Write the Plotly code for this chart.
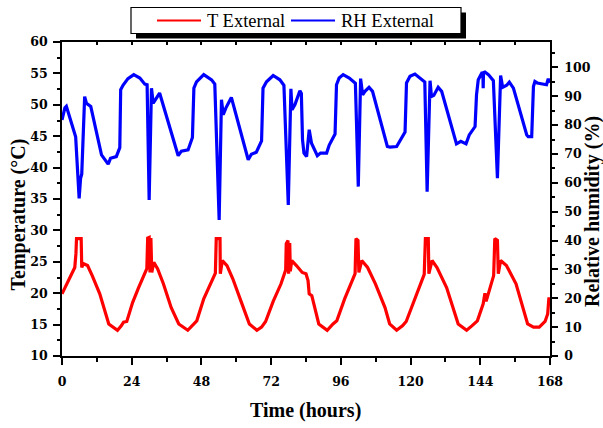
import plotly.graph_objects as go

# ---------------- data ----------------
t_temp = [0.0, 4.4, 4.8, 5.0, 6.6, 6.8, 7.4, 8.8, 10.4, 13.0, 16.1, 18.3, 19.1, 20.4, 21.2, 22.3,
          24.3, 26.3, 28.7, 29.2, 29.5, 30.0, 30.3, 30.6, 30.9, 31.6, 32.9, 34.9, 37.6, 40.2, 43.3,
          44.9, 46.4, 48.8, 51.2, 52.8, 53.1, 54.4, 54.5, 55.2, 56.8, 58.8, 61.8, 64.5, 67.1, 68.7,
          70.1, 72.7, 75.4, 77.0, 77.2, 77.8, 78.0, 78.4, 78.6, 79.1, 80.7, 82.7, 84.0, 84.7, 85.1,
          86.0, 88.4, 91.3, 93.3, 94.6, 97.3, 99.3, 100.9, 101.2, 101.9, 102.2, 103.2, 105.2, 107.9,
          111.2, 112.8, 115.2, 117.2, 118.5, 121.2, 123.1, 124.7, 125.1, 126.1, 126.3, 127.4, 129.1,
          132.4, 136.4, 139.3, 141.1, 143.0, 145.0, 145.6, 146.0, 148.6, 149.0, 149.9, 150.2, 151.0,
          153.0, 156.3, 160.3, 162.3, 164.3, 166.3, 167.2, 167.6, 168.0]
temp = [19.9, 24.1, 26.3, 28.7, 28.7, 24.1, 24.7, 24.4, 22.8, 19.9, 15.1, 14.4, 14.1, 14.8, 15.4, 15.5,
        18.5, 20.8, 23.6, 23.9, 28.8, 28.9, 23.3, 28.8, 23.3, 24.9, 23.9, 21.5, 17.7, 15.1, 14.1,
        14.8, 15.6, 19.1, 21.5, 23.2, 28.7, 28.7, 23.1, 25.2, 24.4, 22.3, 18.5, 15.1, 14.1, 14.6,
        15.5, 18.7, 21.5, 23.7, 27.9, 28.4, 23.1, 28.0, 23.5, 25.2, 24.4, 23.3, 23.1, 22.0, 19.9,
        19.6, 15.1, 14.1, 15.1, 15.6, 19.1, 21.5, 23.1, 28.7, 28.4, 23.3, 25.2, 24.1, 21.5,
        17.7, 15.1, 14.1, 14.8, 15.5, 18.7, 20.9, 23.0, 28.7, 28.7, 23.1, 25.2, 24.1,
        20.9, 15.1, 14.1, 14.8, 15.6, 18.3, 20.0, 18.7, 22.8, 28.7, 28.4, 23.1, 25.2,
        24.4, 21.5, 15.1, 14.6, 14.6, 15.5, 16.7, 19.1, 19.1]

t_rh = [0.0, 1.0, 1.5, 4.4, 4.7, 5.9, 6.4, 6.8, 7.8, 8.4, 9.9, 13.6, 15.9, 16.7, 18.7, 19.9, 20.2,
        21.0, 22.7, 24.7, 26.8, 28.5, 29.3, 30.0, 30.8, 31.4, 33.6, 40.0, 41.1, 43.4, 44.9, 45.4,
        46.3, 48.8, 51.5, 52.6, 54.1, 54.9, 55.5, 56.4, 58.3, 64.1, 65.2, 66.9, 68.7, 69.2, 70.4,
        72.7, 75.0, 76.4, 77.9, 78.8, 79.2, 80.2, 81.9, 82.4, 82.8, 83.3, 84.2, 85.1, 85.9, 87.9,
        89.0, 91.1, 92.0, 94.0, 94.5, 95.4, 96.8, 98.9, 100.3, 101.0, 102.0, 102.8, 103.5, 104.3,
        105.7, 106.9, 112.0, 112.9, 115.2, 116.3, 118.1, 118.6, 119.8, 121.5, 123.2, 124.9, 125.7,
        126.7, 127.2, 128.0, 129.5, 130.7, 135.8, 137.3, 139.1, 140.2, 142.2, 142.7, 143.3, 144.5,
        144.9, 145.0, 145.1, 145.6, 146.8, 148.5, 149.9, 151.0, 151.7, 153.1, 154.0, 155.4, 160.0,
        160.5, 161.7, 162.3, 162.8, 163.6, 166.8, 167.4, 167.8]
rh = [81.8, 86.0, 86.5, 77.2, 76.0, 54.6, 61.6, 63.0, 89.9, 87.6, 86.5, 69.7, 66.5, 68.5, 69.1, 72.2, 92.3,
      93.8, 96.1, 97.5, 96.3, 94.2, 94.0, 54.1, 92.8, 87.6, 91.1, 69.4, 71.0, 71.4, 75.7, 92.8,
      95.0, 97.5, 95.7, 94.2, 47.1, 88.8, 83.6, 85.9, 89.6, 68.0, 69.9, 70.6, 74.5, 92.8, 95.0,
      97.2, 95.7, 93.8, 52.3, 92.6, 85.3, 87.1, 91.9, 91.0, 75.0, 70.3, 69.1, 78.4, 73.7, 69.4,
      70.3, 70.3, 73.1, 76.9, 94.0, 96.3, 97.5, 96.3, 94.9, 94.5, 58.7, 96.1, 90.5, 91.7,
      93.1, 91.7, 72.6, 72.4, 72.6, 74.7, 77.6, 94.6, 96.9, 97.7, 96.3, 94.9, 56.9,
      95.4, 89.9, 90.3, 93.1, 91.7, 73.5, 74.4, 73.5, 76.6, 79.5, 90.5, 95.7, 98.0,
      98.0, 92.8, 98.2, 98.4, 97.5, 95.4, 61.6, 97.2, 93.1, 93.8, 94.9, 92.8, 76.6,
      76.0, 76.0, 93.4, 95.1, 94.6, 94.0, 96.1, 94.6]

x_tickvals = [0, 24, 48, 72, 96, 120, 144, 168]
y_tickvals = [10, 15, 20, 25, 30, 35, 40, 45, 50, 55, 60]
y2_tickvals = [0, 10, 20, 30, 40, 50, 60, 70, 80, 90, 100]

series_names = ["T External", "RH External"]
series_colors = ["#ff0000", "#0000ff"]

# ---------------- layout helpers ----------------
W, H = 603, 428
ML, MR, MT, MB = 62, 53, 42, 72
PW, PH = W - ML - MR, H - MT - MB


def fx(p):
    return (p - ML) / PW


def fy(p):
    return (H - MB - p) / PH


tick_font = dict(family="DejaVu Serif", size=12.5, color="black", weight="bold")
title_font = dict(family="Liberation Serif", size=20, color="black", weight="bold")
legend_font = dict(family="Liberation Serif", size=18.5, color="black")

fig = go.Figure()
fig.add_trace(go.Scatter(x=t_temp, y=temp, mode="lines", name=series_names[0],
                         line=dict(color=series_colors[0], width=3.2), showlegend=False))
fig.add_trace(go.Scatter(x=t_rh, y=rh, mode="lines", name=series_names[1], yaxis="y2",
                         line=dict(color=series_colors[1], width=3.2), showlegend=False))
# carrier trace for the top (mirror) axis
fig.add_trace(go.Scatter(x=[None], y=[None], xaxis="x2", yaxis="y", showlegend=False,
                         hoverinfo="skip"))

axis_common = dict(showline=True, linecolor="black", linewidth=1.5, showgrid=False,
                   zeroline=False, tickcolor="black", tickwidth=1.5, tickfont=tick_font,
                   automargin=False)

fig.update_layout(
    width=W, height=H,
    margin=dict(l=ML, r=MR, t=MT, b=MB, pad=0, autoexpand=False),
    paper_bgcolor="white", plot_bgcolor="white",
    showlegend=False,
    xaxis=dict(range=[0, 168], tickvals=x_tickvals, ticks="outside", ticklen=7,
               minor=dict(dtick=12, tick0=0, ticks="outside", ticklen=4, tickcolor="black",
                          tickwidth=1.5),
               ticklabelstandoff=6, **axis_common),
    xaxis2=dict(range=[0, 168], overlaying="x", side="top", anchor="y", tickvals=list(range(0, 169, 12)),
                ticks="inside", ticklen=3, showticklabels=False, showline=True, linecolor="black",
                linewidth=1.5, tickcolor="black", tickwidth=1.5, showgrid=False, zeroline=False,
                automargin=False),
    yaxis=dict(range=[10, 60], tickvals=y_tickvals, ticks="outside", ticklen=7,
               minor=dict(dtick=2.5, tick0=10, ticks="outside", ticklen=3.5, tickcolor="black",
                          tickwidth=1.5),
               ticklabelstandoff=3, **axis_common),
    yaxis2=dict(range=[0, 108.8], overlaying="y", side="right", anchor="x",
                tickvals=y2_tickvals, ticks="outside", ticklen=6,
                minor=dict(dtick=5, tick0=0, ticks="outside", ticklen=3, tickcolor="black",
                           tickwidth=1.5),
                ticklabelstandoff=4, **axis_common),
)

# ---------------- manual legend (box with drop shadow) ----------------
box = (131, 7.5, 461, 33.5)
shadow_off = 5
shapes = [
    dict(type="rect", xref="paper", yref="paper",
         x0=fx(box[0] + shadow_off), x1=fx(box[2] + shadow_off),
         y0=fy(box[3] + shadow_off), y1=fy(box[1] + shadow_off),
         fillcolor="black", line=dict(width=0)),
    dict(type="rect", xref="paper", yref="paper",
         x0=fx(box[0]), x1=fx(box[2]), y0=fy(box[3]), y1=fy(box[1]),
         fillcolor="white", line=dict(color="black", width=1.2)),
]
ly = 20.5
legend_lines = [(157, 201), (291, 335)]
legend_text_x = [206, 340]
for (a, b), c in zip(legend_lines, series_colors):
    shapes.append(dict(type="line", xref="paper", yref="paper", x0=fx(a), x1=fx(b),
                       y0=fy(ly), y1=fy(ly), line=dict(color=c, width=2)))
fig.update_layout(shapes=shapes)

annotations = []
for name, tx in zip(series_names, legend_text_x):
    annotations.append(dict(text=name, xref="paper", yref="paper", x=fx(tx - 1), y=fy(ly),
                            xanchor="left", yanchor="middle", showarrow=False, font=legend_font))

annotations += [
    dict(text="Time (hours)", xref="paper", yref="paper", x=fx(305), y=fy(410),
         xanchor="center", yanchor="middle", showarrow=False, font=title_font),
    dict(text="Temperature (°C)", xref="paper", yref="paper", x=fx(17.5), y=fy(215),
         xanchor="center", yanchor="middle", showarrow=False, textangle=-90, font=title_font),
    dict(text="Relative humidity (%)", xref="paper", yref="paper", x=fx(592.5), y=fy(211.5),
         xanchor="center", yanchor="middle", showarrow=False, textangle=-90, font=title_font),
]
fig.update_layout(annotations=annotations)

# the page is shown at exactly the figure size: drop the browser's default body margin
fig.write_html("out.html", config={"displayModeBar": False},
               post_script="document.body.style.margin='0px';document.body.style.overflow='hidden';")
